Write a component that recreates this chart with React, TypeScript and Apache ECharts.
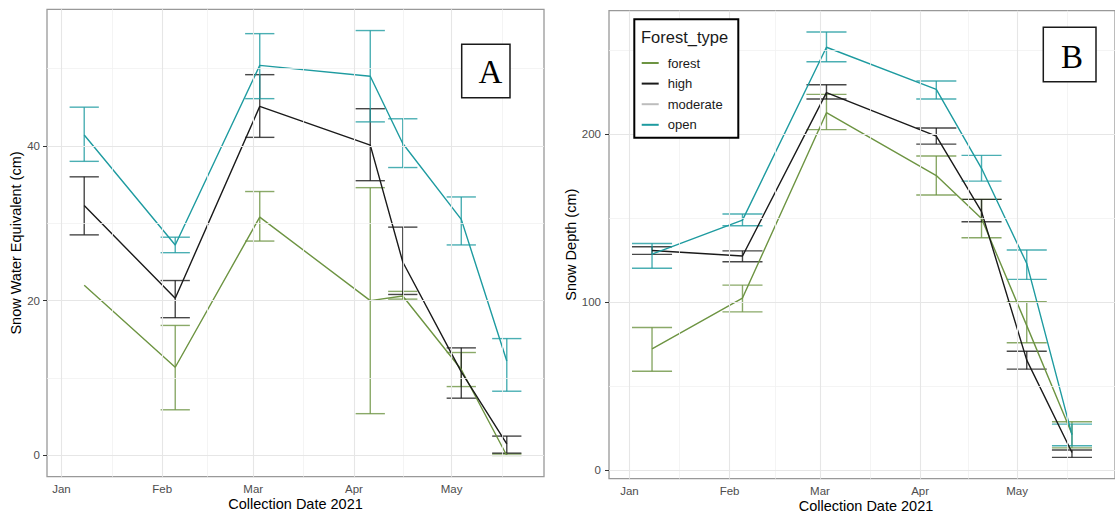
import React, { useEffect, useRef } from 'react';
import * as echarts from 'echarts';

// ---------- data ----------
const monthLabels = ['Jan', 'Feb', 'Mar', 'Apr', 'May'];
const monthStarts = ['2021-01-01', '2021-02-01', '2021-03-01', '2021-04-01', '2021-05-01', '2021-06-01'];

const sweDates = ['2021-01-08', '2021-02-05', '2021-03-03', '2021-04-06', '2021-04-16', '2021-05-04', '2021-05-18'];
const depthDates = ['2021-01-08', '2021-02-05', '2021-03-03', '2021-04-06', '2021-04-20', '2021-05-04', '2021-05-18'];

const sweOpenMean = [41.4, 27.2, 50.4, 49.0, 40.3, 30.5, 12.2];
const sweOpenLo = [38.0, 26.2, 46.1, 43.1, 37.2, 27.2, 8.3];
const sweOpenHi = [45.0, 28.2, 54.5, 54.9, 43.5, 33.4, 15.1];
const sweHighMean = [32.3, 20.3, 45.1, 40.1, 25.0, 10.8, 1.5];
const sweHighLo = [28.5, 17.8, 41.1, 35.5, 20.8, 7.4, 0.3];
const sweHighHi = [36.0, 22.6, 49.2, 44.8, 29.5, 13.9, 2.5];
const sweForestMean = [22.0, 11.4, 30.8, 20.0, 20.6, 11.1, 0.0];
const sweForestLo = [null, 5.9, 27.7, 5.4, 20.2, 8.9, 0.0];
const sweForestHi = [null, 16.8, 34.1, 34.6, 21.2, 13.3, 0.2];

const depthOpenMean = [128.5, 148.8, 251.6, 226.6, 179.6, 123.0, 21.0];
const depthOpenLo = [120.1, 145.4, 243.0, 220.8, 172.0, 113.5, 14.5];
const depthOpenHi = [134.9, 152.4, 260.7, 231.5, 187.3, 131.0, 27.4];
const depthHighMean = [130.7, 127.4, 224.6, 198.8, 153.8, 65.5, 10.5];
const depthHighLo = [128.4, 124.0, 220.8, 194.0, 147.8, 60.1, 7.6];
const depthHighHi = [132.9, 130.5, 229.3, 203.6, 161.1, 70.8, 12.0];
const depthForestMean = [72.2, 102.4, 212.7, 175.3, 149.8, 86.0, 21.5];
const depthForestLo = [58.9, 94.2, 202.6, 163.7, 138.3, 75.8, 13.3];
const depthForestHi = [84.9, 110.1, 223.6, 186.9, 161.1, 100.2, 28.8];

const sweMajorY = [0, 20, 40];
const sweMinorY = [10, 30, 50];
const depthMajorY = [0, 100, 200];
const depthMinorY = [50, 150, 250];

const legendNames = ['forest', 'high', 'moderate', 'open'];

// ---------- helpers ----------
const DAY = 86400000;
const ts = (s: string) => {
  const [y, m, d] = s.split('-').map(Number);
  return Date.UTC(y, m - 1, d);
};
const majorX = monthStarts.slice(0, 5).map(ts);
const minorX = monthStarts.slice(0, 5).map((s, i) => (ts(s) + ts(monthStarts[i + 1])) / 2);

const COLORS: Record<string, string> = {
  forest: '#6d9442',
  high: '#1a1a1a',
  moderate: '#bdbdbd',
  open: '#1e9ba0',
};
const SANS = 'Liberation Sans, Arial, sans-serif';
const SERIF = 'Liberation Serif, Times New Roman, serif';

function lineSeries(name: string, dates: string[], mean: number[], g: number) {
  return {
    type: 'line',
    name,
    xAxisIndex: g,
    yAxisIndex: g,
    data: dates.map((d, i) => [ts(d), mean[i]]),
    showSymbol: false,
    symbol: 'none',
    lineStyle: { color: COLORS[name], width: 1.4 },
    itemStyle: { color: COLORS[name] },
    z: 4,
    silent: true,
  };
}

function errSeries(name: string, dates: string[], lo: (number | null)[], hi: (number | null)[], g: number, halfDays: number) {
  const data: number[][] = [];
  dates.forEach((d, i) => {
    if (lo[i] != null && hi[i] != null) data.push([ts(d), lo[i] as number, hi[i] as number]);
  });
  const color = COLORS[name];
  return {
    type: 'custom',
    name: name + '_err',
    xAxisIndex: g,
    yAxisIndex: g,
    data,
    encode: { x: 0, y: [1, 2] },
    z: 3,
    silent: true,
    renderItem: (params: any, api: any) => {
      const t = api.value(0);
      const l = api.value(1);
      const h = api.value(2);
      const hw = halfDays * DAY;
      const pt = api.coord([t, h]);
      const pb = api.coord([t, l]);
      const tl = api.coord([t - hw, h]);
      const tr = api.coord([t + hw, h]);
      const bl = api.coord([t - hw, l]);
      const br = api.coord([t + hw, l]);
      const st = () => ({ stroke: color, lineWidth: 1.4, opacity: 0.8 });
      return {
        type: 'group',
        children: [
          { type: 'line', shape: { x1: pt[0], y1: pt[1], x2: pb[0], y2: pb[1] }, style: st() },
          { type: 'line', shape: { x1: tl[0], y1: tl[1], x2: tr[0], y2: tr[1] }, style: st() },
          { type: 'line', shape: { x1: bl[0], y1: bl[1], x2: br[0], y2: br[1] }, style: st() },
        ],
      };
    },
  };
}

function gridLines(g: number, x0: number, y0: number, majY: number[], minY: number[]) {
  const maj = { color: '#e6e6e6', width: 1.1, type: 'solid' };
  const min = { color: '#f1f1f1', width: 0.8, type: 'solid' };
  return {
    type: 'line',
    name: '_grid' + g,
    xAxisIndex: g,
    yAxisIndex: g,
    data: [[x0, y0]],
    showSymbol: false,
    symbol: 'none',
    lineStyle: { opacity: 0 },
    z: 1,
    silent: true,
    markLine: {
      silent: true,
      symbol: ['none', 'none'],
      label: { show: false },
      animation: false,
      data: [
        ...minorX.map((v) => ({ xAxis: v, lineStyle: min })),
        ...minY.map((v) => ({ yAxis: v, lineStyle: min })),
        ...majorX.map((v) => ({ xAxis: v, lineStyle: maj })),
        ...majY.map((v) => ({ yAxis: v, lineStyle: maj })),
      ],
    },
  };
}

function xAxis(g: number, min: number, max: number) {
  return {
    type: 'value',
    gridIndex: g,
    min,
    max,
    axisLine: { show: false },
    axisTick: { show: true, length: 4, lineStyle: { color: '#333', width: 1 }, customValues: majorX },
    axisLabel: {
      customValues: majorX,
      formatter: (v: number) => monthLabels[new Date(v).getUTCMonth()] || '',
      color: '#4d4d4d',
      fontSize: 11.5,
      fontFamily: SANS,
      margin: 6,
    },
    splitLine: { show: false },
  };
}

function yAxis(g: number, min: number, max: number, ticks: number[], margin: number) {
  return {
    type: 'value',
    gridIndex: g,
    min,
    max,
    axisLine: { show: false },
    axisTick: { show: true, length: 4, lineStyle: { color: '#333', width: 1 }, customValues: ticks },
    axisLabel: { customValues: ticks, color: '#4d4d4d', fontSize: 11.5, fontFamily: SANS, margin },
    splitLine: { show: false },
  };
}

export default function App() {
  const ref = useRef<HTMLDivElement>(null);
  useEffect(() => {
    const chart = echarts.init(ref.current!, null, { renderer: 'svg' });
    const jan1 = ts('2021-01-01');
    const may1 = ts('2021-05-01');
    const xMinA = jan1 - 4.45 * DAY;
    const xMaxA = may1 + 28.45 * DAY;
    const xMinB = jan1 - 6.32 * DAY;
    const xMaxB = may1 + 30.32 * DAY;

    const option: any = {
      animation: false,
      backgroundColor: '#fff',
      textStyle: { fontFamily: SANS },
      grid: [
        { left: 47, top: 9.3, width: 497, height: 467.4, show: true, borderColor: '#999', borderWidth: 1.3, backgroundColor: '#fff' },
        { left: 609, top: 10.7, width: 514, height: 468, show: true, borderColor: '#999', borderWidth: 1.3, backgroundColor: '#fff' },
      ],
      xAxis: [xAxis(0, xMinA, xMaxA), xAxis(1, xMinB, xMaxB)],
      yAxis: [
        yAxis(0, -2.745, 57.645, sweMajorY, 7),
        yAxis(1, -5.06, 273.36, depthMajorY, 8),
      ],
      legend: {
        show: true,
        data: legendNames,
        orient: 'vertical',
        left: 641.7,
        top: 55,
        itemWidth: 17,
        itemHeight: 2,
        itemGap: 4.6,
        icon: 'rect',
        padding: 0,
        selectedMode: false,
        z: 20,
        textStyle: { fontSize: 13, color: '#1a1a1a', lineHeight: 16, padding: [0, 0, 0, 4], fontFamily: SANS },
      },
      graphic: [
        { type: 'rect', shape: { x: 634.3, y: 19.3, width: 104, height: 118.4 }, style: { fill: '#fff', stroke: '#000', lineWidth: 2 }, z: 15, silent: true },
        { type: 'text', x: 641, y: 36.5, style: { text: 'Forest_type', fontSize: 16.5, fontFamily: SANS, fill: '#1a1a1a', align: 'left', verticalAlign: 'middle' }, z: 21, silent: true },
        { type: 'rect', shape: { x: 461.7, y: 44.3, width: 48.3, height: 53.4 }, style: { fill: '#fff', stroke: '#1a1a1a', lineWidth: 1.5 }, z: 15, silent: true },
        { type: 'text', x: 490.5, y: 72, style: { text: 'A', fontSize: 33, fontFamily: SERIF, fill: '#000', align: 'center', verticalAlign: 'middle' }, z: 16, silent: true },
        { type: 'rect', shape: { x: 1043.3, y: 27.3, width: 52.7, height: 54.4 }, style: { fill: '#fff', stroke: '#1a1a1a', lineWidth: 1.5 }, z: 15, silent: true },
        { type: 'text', x: 1072, y: 56.5, style: { text: 'B', fontSize: 33, fontFamily: SERIF, fill: '#000', align: 'center', verticalAlign: 'middle' }, z: 16, silent: true },
        { type: 'text', x: 16, y: 243, rotation: Math.PI / 2, style: { text: 'Snow Water Equivalent (cm)', fontSize: 14.5, fontFamily: SANS, fill: '#000', align: 'center', verticalAlign: 'middle' }, silent: true },
        { type: 'text', x: 571, y: 244.7, rotation: Math.PI / 2, style: { text: 'Snow Depth (cm)', fontSize: 14.5, fontFamily: SANS, fill: '#000', align: 'center', verticalAlign: 'middle' }, silent: true },
        { type: 'text', x: 295.5, y: 504, style: { text: 'Collection Date 2021', fontSize: 14.5, fontFamily: SANS, fill: '#000', align: 'center', verticalAlign: 'middle' }, silent: true },
        { type: 'text', x: 866, y: 506, style: { text: 'Collection Date 2021', fontSize: 14.5, fontFamily: SANS, fill: '#000', align: 'center', verticalAlign: 'middle' }, silent: true },
      ],
      series: [
        gridLines(0, xMinA, 0, sweMajorY, sweMinorY),
        gridLines(1, xMinB, 0, depthMajorY, depthMinorY),
        errSeries('forest', sweDates, sweForestLo, sweForestHi, 0, 4.5),
        errSeries('high', sweDates, sweHighLo, sweHighHi, 0, 4.5),
        errSeries('open', sweDates, sweOpenLo, sweOpenHi, 0, 4.5),
        lineSeries('forest', sweDates, sweForestMean, 0),
        lineSeries('high', sweDates, sweHighMean, 0),
        lineSeries('open', sweDates, sweOpenMean, 0),
        errSeries('forest', depthDates, depthForestLo, depthForestHi, 1, 6.2),
        errSeries('high', depthDates, depthHighLo, depthHighHi, 1, 6.2),
        errSeries('open', depthDates, depthOpenLo, depthOpenHi, 1, 6.2),
        lineSeries('forest', depthDates, depthForestMean, 1),
        lineSeries('high', depthDates, depthHighMean, 1),
        { type: 'line', name: 'moderate', xAxisIndex: 1, yAxisIndex: 1, data: [], showSymbol: false, lineStyle: { color: COLORS.moderate, width: 1.4 }, itemStyle: { color: COLORS.moderate } },
        lineSeries('open', depthDates, depthOpenMean, 1),
      ],
    };
    chart.setOption(option);
    return () => chart.dispose();
  }, []);
  return <div ref={ref} style={{ position: 'fixed', left: 0, top: 0, width: 1115, height: 514, background: '#fff' }} />;
}
